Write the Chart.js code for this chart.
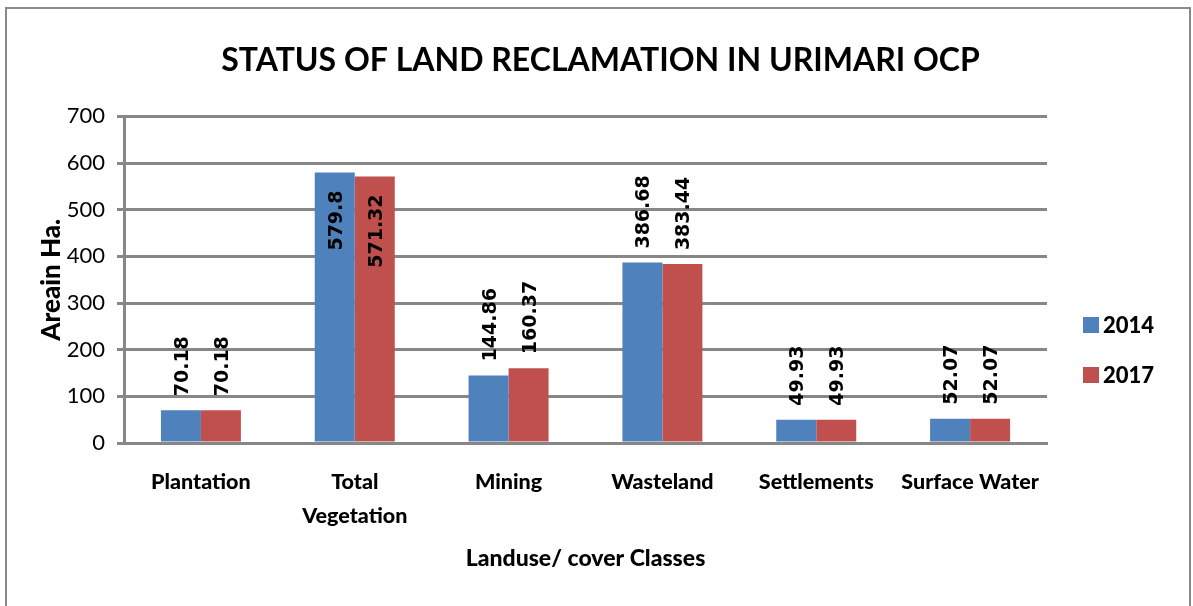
<!DOCTYPE html>
<html>
<head>
<meta charset="utf-8">
<script src="https://cdn.jsdelivr.net/npm/chart.js@4.4.1/dist/chart.umd.min.js"></script>
<style>
    body { margin: 0; background: #fff; overflow: hidden; }
    #wrap { position: relative; width: 1193px; height: 606px; }
    #frame { position: absolute; left: 5px; top: 7px; width: 1186px; height: 640px; border: 2px solid #8a8a8a; box-sizing: border-box; pointer-events: none; }
    canvas { position: absolute; left: 0; top: 0; }
</style>
</head>
<body>
<div id="wrap">
    <canvas id="chart" width="1193" height="606"></canvas>
    <div id="frame"></div>
</div>
<script>
// data
const categories = ['Plantation', ['Total', 'Vegetation'], 'Mining', 'Wasteland', 'Settlements', 'Surface Water'];
const area2014 = [70.18, 579.8, 144.86, 386.68, 49.93, 52.07];
const area2017 = [70.18, 571.32, 160.37, 383.44, 49.93, 52.07];
const seriesNames = ['2014', '2017'];
const yTicks = [0, 100, 200, 300, 400, 500, 600, 700];

const FONT = "Lato, 'Open Sans', sans-serif";
const GRID = '#878787';

// rotated value labels, outside end unless they'd run off the top
const barLabels = {
    id: 'barLabels',
    afterDatasetsDraw(chart) {
        const ctx = chart.ctx;
        const area = chart.chartArea;
        ctx.save();
        ctx.font = "bold 19px 'DejaVu Sans', Verdana, sans-serif";
        ctx.fillStyle = '#000';
        ctx.textBaseline = 'middle';
        chart.data.datasets.forEach((ds, i) => {
            const meta = chart.getDatasetMeta(i);
            meta.data.forEach((bar, j) => {
                const txt = String(ds.data[j]);
                const w = ctx.measureText(txt).width;
                ctx.save();
                if (bar.y - 14 - w < area.top) {
                    ctx.translate(bar.x + 2, bar.y + 18);
                    ctx.rotate(-Math.PI / 2);
                    ctx.textAlign = 'right';
                } else {
                    ctx.translate(bar.x + 2, bar.y - 14);
                    ctx.rotate(-Math.PI / 2);
                    ctx.textAlign = 'left';
                }
                ctx.fillText(txt, 0, 0);
                ctx.restore();
            });
        });
        ctx.restore();
    }
};

// legend in the empty right-hand column
const sideLegend = {
    id: 'sideLegend',
    afterDraw(chart) {
        const ctx = chart.ctx;
        ctx.save();
        ctx.font = '900 22px ' + FONT;
        ctx.textBaseline = 'middle';
        chart.data.datasets.forEach((ds, i) => {
            const cy = 325 + i * 50;
            ctx.fillStyle = ds.backgroundColor;
            ctx.fillRect(1083, cy - 8, 16, 16);
            ctx.fillStyle = '#000';
            ctx.fillText(ds.label, 1103, cy + 1);
        });
        ctx.restore();
    }
};

const data = {
    labels: categories,
    datasets: [
        {
            label: seriesNames[0],
            data: area2014,
            backgroundColor: '#4F81BD',
            borderWidth: 0,
        },
        {
            label: seriesNames[1],
            data: area2017,
            backgroundColor: '#C0504D',
            borderWidth: 0,
        },
    ]
};

const config = {
    type: 'bar',
    data: data,
    plugins: [barLabels, sideLegend],
    options: {
        responsive: false,
        animation: false,
        layout: {
            padding: { left: 8, right: 0, top: 0, bottom: 0 }
        },
        datasets: {
            bar: {
                categoryPercentage: 0.52,
                barPercentage: 1,
            }
        },
        scales: {
            x: {
                afterFit: (s) => { s.height = 163; },
                grid: {
                    display: false,
                    drawTicks: false,
                },
                border: {
                    display: true,
                    color: GRID,
                    width: 3,
                },
                ticks: {
                    color: '#000',
                    padding: 22,
                    maxRotation: 0,
                    autoSkip: false,
                    font: { family: FONT, size: 21.5, weight: '900', lineHeight: 1.58 }
                },
                title: {
                    display: true,
                    text: 'Landuse/ cover Classes',
                    color: '#000',
                    font: { family: FONT, size: 23, weight: '900', lineHeight: 1.2 },
                    padding: { top: 0, bottom: 34 }
                }
            },
            y: {
                min: 0,
                max: 700,
                afterFit: (s) => { s.width = 116; },
                afterBuildTicks: (s) => { s.ticks = yTicks.map(v => ({ value: v })); },
                grid: {
                    color: GRID,
                    lineWidth: 3,
                    tickLength: 7,
                },
                border: {
                    display: true,
                    color: GRID,
                    width: 3,
                },
                ticks: {
                    color: '#000',
                    padding: 12,
                    font: { family: FONT, size: 22 }
                },
                title: {
                    display: true,
                    text: 'Areain Ha.',
                    color: '#000',
                    font: { family: FONT, size: 26, weight: '900', lineHeight: 1.2 },
                    padding: { top: 28, bottom: 0 }
                }
            },
            // empty column on the right that holds the legend
            yRight: {
                position: 'right',
                min: 0,
                max: 700,
                afterFit: (s) => { s.width = 146; },
                grid: { display: false, drawTicks: false },
                border: { display: false },
                ticks: { display: false }
            }
        },
        plugins: {
            legend: {
                display: false
            },
            tooltip: {
                enabled: false
            },
            title: {
                display: true,
                text: 'STATUS OF LAND RECLAMATION IN URIMARI OCP',
                color: '#000',
                font: { family: FONT, size: 32, weight: 'bold', lineHeight: 1.2 },
                padding: { top: 41, bottom: 37 }
            }
        }
    }
};

new Chart(document.getElementById('chart').getContext('2d'), config);
</script>
</body>
</html>
